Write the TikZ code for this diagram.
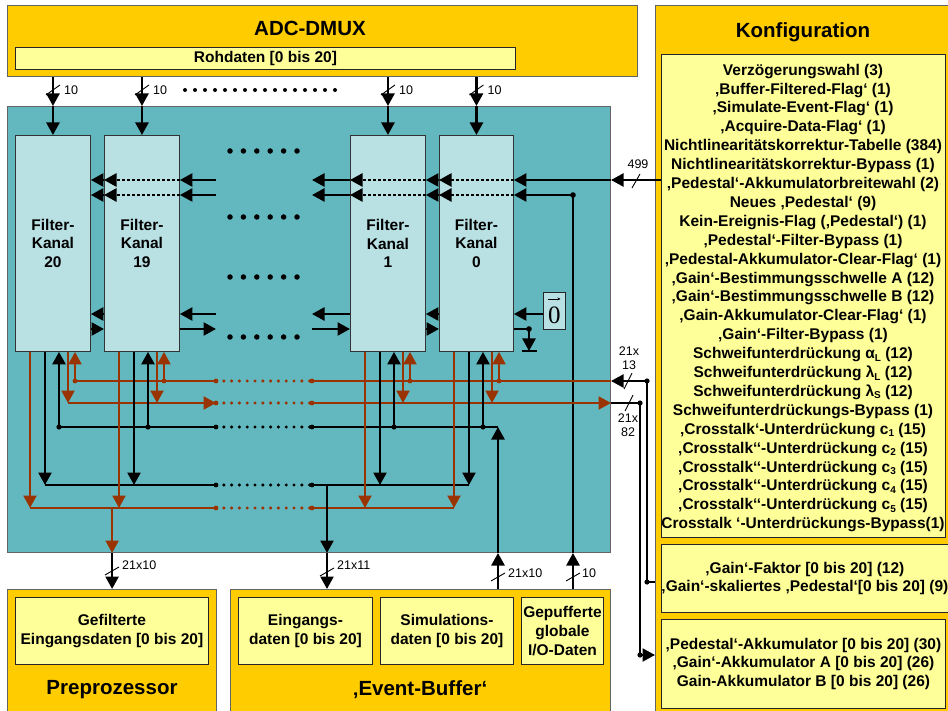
\documentclass[tikz,border=0pt]{standalone}
\usepackage{fontspec}
\setmainfont{Liberation Sans}
\newfontfamily\zserif{Liberation Serif}
\usetikzlibrary{arrows.meta,calc}
\definecolor{orng}{RGB}{255,204,0}
\definecolor{pyel}{RGB}{255,255,153}
\definecolor{tealc}{RGB}{99,184,191}
\definecolor{chanc}{RGB}{185,224,227}
\definecolor{brnc}{RGB}{153,51,0}
\definecolor{bordc}{RGB}{100,100,100}
\newcommand{\mysub}[1]{\raisebox{-0.3ex}{\fontsize{10}{10}\selectfont #1}}
\tikzset{
  bigbox/.style={draw=bordc, line width=1.2pt, fill=orng, inner sep=0pt},
  inbox/.style={draw=black!85, line width=0.9pt, fill=pyel, inner sep=0pt, align=center, font=\fontsize{15.5}{18.6}\selectfont\bfseries},
  chanbox/.style={draw=black!80, line width=0.9pt, fill=chanc, inner sep=0pt, align=center, minimum width=75pt, minimum height=216pt, font=\fontsize{15.5}{18.5}\selectfont\bfseries},
  ttl/.style={font=\fontsize{20.5}{24}\selectfont\bfseries, inner sep=0pt},
  lbl/.style={font=\fontsize{12.5}{14.5}\selectfont, align=center, inner sep=0pt},
  blk/.style={draw=black, line width=2.5pt},
  brn/.style={draw=brnc, line width=2.2pt},
  olin/.style={draw=black, line width=2.2pt},
  tip/.style={-{Triangle[length=12.5pt,width=13pt]}},
  fdot/.style={dash pattern=on 2.6pt off 2.4pt},
  busdot/.style={line width=3.4pt, dash pattern=on 0pt off 7.8pt, line cap=round},
  sl/.style={draw=black, line width=0.9pt},
}
\begin{document}
\begin{tikzpicture}[x=1pt,y=-1pt]
\useasboundingbox (0,0) rectangle (948,711);
\clip (0,0) rectangle (948,711);
\fill[white] (0,0) rectangle (948,711);

% ---------- ADC-DMUX ----------
\node[bigbox, anchor=north west, minimum width=630pt, minimum height=71pt] (adc) at (7,5) {};
\node[ttl] (adct) at (310,28) {ADC-DMUX};
\node[inbox, anchor=north west, minimum width=500pt, minimum height=22pt] (roh) at (15,47) {Rohdaten [0 bis 20]};

% ---------- Konfiguration ----------
\node[bigbox, anchor=north west, minimum width=300pt, minimum height=720pt] (kon) at (655,5) {};
\node[ttl] (kont) at (803,32) {Konfiguration};
\node[inbox, anchor=north west, minimum width=284pt, minimum height=483pt] (cfg1) at (661,54) {};
\node[align=center, inner sep=0pt, font=\fontsize{15.5}{18.9}\selectfont\bfseries] (cfg1t) at (803,298) {Verzögerungswahl (3)\\
‚Buffer-Filtered-Flag‘ (1)\\
‚Simulate-Event-Flag‘ (1)\\
‚Acquire-Data-Flag‘ (1)\\
Nichtlinearitätskorrektur-Tabelle (384)\\
Nichtlinearitätskorrektur-Bypass (1)\\
‚Pedestal‘-Akkumulatorbreitewahl (2)\\
Neues ‚Pedestal‘ (9)\\
Kein-Ereignis-Flag (‚Pedestal‘) (1)\\
‚Pedestal‘-Filter-Bypass (1)\\
‚Pedestal-Akkumulator-Clear-Flag‘ (1)\\
‚Gain‘-Bestimmungsschwelle A (12)\\
‚Gain‘-Bestimmungsschwelle B (12)\\
‚Gain-Akkumulator-Clear-Flag‘ (1)\\
‚Gain‘-Filter-Bypass (1)\\
Schweifunterdrückung α\mysub{L} (12)\\
Schweifunterdrückung λ\mysub{L} (12)\\
Schweifunterdrückung λ\mysub{S} (12)\\
Schweifunterdrückungs-Bypass (1)\\
‚Crosstalk‘-Unterdrückung c\mysub{1} (15)\\
‚Crosstalk‘‘-Unterdrückung c\mysub{2} (15)\\
‚Crosstalk‘‘-Unterdrückung c\mysub{3} (15)\\
‚Crosstalk‘‘-Unterdrückung c\mysub{4} (15)\\
‚Crosstalk‘‘-Unterdrückung c\mysub{5} (15)\\
Crosstalk ‘-Unterdrückungs-Bypass(1)};
\node[inbox, anchor=north west, minimum width=284pt, minimum height=68pt] (cfg2) at (661,544) {‚Gain‘-Faktor [0 bis 20] (12)\\‚Gain‘-skaliertes ‚Pedestal‘[0 bis 20] (9)};
\node[inbox, anchor=north west, minimum width=284pt, minimum height=89pt] (cfg3) at (661,619) {‚Pedestal‘-Akkumulator [0 bis 20] (30)\\‚Gain‘-Akkumulator A [0 bis 20] (26)\\Gain-Akkumulator B [0 bis 20] (26)};

% ---------- Filter block ----------
\node[draw=bordc, line width=1pt, fill=tealc, anchor=north west, minimum width=603pt, minimum height=446pt, inner sep=0pt] (teal) at (7,106) {};
\node[chanbox, anchor=north west] (k20) at (15,135) {Filter-\\Kanal\\20};
\node[chanbox, anchor=north west] (k19) at (104,135) {Filter-\\Kanal\\19};
\node[chanbox, anchor=north west] (k1) at (350,135) {Filter-\\Kanal\\1};
\node[chanbox, anchor=north west, minimum width=74pt] (k0) at (439,135) {Filter-\\Kanal\\0};
\node[draw=black!85, line width=0.9pt, fill=chanc, minimum width=22pt, minimum height=37pt, anchor=north west, inner sep=0pt] (zero) at (543,292) {};
\node[inner sep=0pt, font=\fontsize{25}{25}\selectfont\zserif] (zerot) at ($(zero.center)+(0,4)$) {0};
\draw[line width=0.7pt, -{Stealth[length=3pt,width=3pt]}] ($(zero.center)+(-6,-12)$) -- ($(zero.center)+(6,-12)$);

% ---------- bottom blocks ----------
\node[bigbox, anchor=north west, minimum width=209pt, minimum height=140pt] (pre) at (7,589) {};
\node[inbox, anchor=north west, minimum width=193pt, minimum height=67pt] (gef) at (15,597) {Gefilterte\\Eingangsdaten [0 bis 20]};
\node[ttl] (pret) at (112,690) {Preprozessor};
\node[bigbox, anchor=north west, minimum width=380pt, minimum height=140pt] (evb) at (230,589) {};
\node[inbox, anchor=north west, minimum width=134pt, minimum height=67pt] (ein) at (238,597) {Eingangs-\\daten [0 bis 20]};
\node[inbox, anchor=north west, minimum width=133pt, minimum height=67pt] (sim) at (380,597) {Simulations-\\daten [0 bis 20]};
\node[inbox, anchor=north west, minimum width=82pt, minimum height=67pt] (gep) at (521,597) {Gepufferte\\globale\\I/O-Daten};
\node[ttl] (evbt) at (420,690) {‚Event-Buffer‘};

% ---------- helper coordinates ----------
\coordinate (r1) at (0,180); \coordinate (r2) at (0,195);
\coordinate (r3) at (0,314); \coordinate (r4) at (0,329);
\coordinate (gapL) at (216,0); \coordinate (gapR) at (312,0);
\coordinate (busA) at (0,381); \coordinate (busB) at (0,403);
\coordinate (busC) at (0,427); \coordinate (busD) at (0,485);
\coordinate (busE) at (0,508);
\coordinate (vEin) at (327,0); \coordinate (vSim) at (498,0); \coordinate (vIO) at (573,0);
\coordinate (gnd) at (529,351);
\coordinate (jA) at (647,381); \coordinate (jB) at (640,403);
\coordinate (yA) at (0,582); \coordinate (yB) at (0,655);
\coordinate (slT) at (0,90);

% ---------- top inputs ----------
\foreach \c in {k20,k19,k1,k0}{
  \draw[blk,tip] (\c.north |- adc.south) -- (\c.north |- teal.north);
  \draw[blk,tip] (\c.north |- teal.north) -- (\c.north);
  \draw[sl] ($(\c.north |- slT)+(-7,5)$) -- ($(\c.north |- slT)+(7,-5)$);
  \node[lbl, anchor=west] at ($(\c.north |- slT)+(11,0)$) {10};
}
\draw[line width=4pt, dash pattern=on 0pt off 10pt, line cap=round] (185,90) -- (345,90);
\foreach \y in {151,217,277,337}
  \draw[line width=5.5pt, dash pattern=on 0pt off 13.4pt, line cap=round] (230,\y) -- (297,\y);

% ---------- rows 1 and 2 (leftward, through boxes) ----------
\draw[olin,tip] (cfg1.west |- r1) -- (teal.east |- r1);
\draw[sl] (632,188) -- (640,174);
\node[lbl] at (638,164) {499};
\draw[blk,tip] (teal.east |- r1) -- (k0.east |- r1);
\draw[blk,tip] (vIO |- teal.south) -- (vIO |- r2) -- (k0.east |- r2);
\fill (vIO |- r2) circle (2.8pt);
\foreach \r in {r1,r2}{
  \draw[blk,fdot,tip] (k0.east |- \r) -- (k0.west |- \r);
  \draw[blk,tip] (k0.west |- \r) -- (k1.east |- \r);
  \draw[blk,fdot,tip] (k1.east |- \r) -- (k1.west |- \r);
  \draw[blk,tip] (k1.west |- \r) -- (gapR |- \r);
  \draw[blk,tip] (gapL |- \r) -- (k19.east |- \r);
  \draw[blk,fdot,tip] (k19.east |- \r) -- (k19.west |- \r);
  \draw[blk,tip] (k19.west |- \r) -- (k20.east |- \r);
}

% ---------- row 3 (leftward) ----------
\draw[blk,tip] (zero.west |- r3) -- (k0.east |- r3);
\draw[blk,tip] (k0.west |- r3) -- (k1.east |- r3);
\draw[blk,tip] (k1.west |- r3) -- (gapR |- r3);
\draw[blk,tip] (gapL |- r3) -- (k19.east |- r3);
\draw[blk,tip] (k19.west |- r3) -- (k20.east |- r3);

% ---------- row 4 (rightward) ----------
\draw[blk,tip] (k20.east |- r4) -- (k19.west |- r4);
\draw[blk,tip] (k19.east |- r4) -- (gapL |- r4);
\draw[blk,tip] (gapR |- r4) -- (k1.west |- r4);
\draw[blk,tip] (k1.east |- r4) -- (k0.west |- r4);
\draw[blk] (k0.east |- r4) -- (gnd |- r4);
\draw[blk,tip] (gnd |- r4) -- (gnd);
\fill (gnd |- r4) circle (2.8pt);
\draw[line width=2.8pt] ($(gnd)+(-7.5,0)$) -- ($(gnd)+(7.5,0)$);

% ---------- channel bottom connections ----------
\foreach \c in {k20,k19,k1,k0}{
  \coordinate (\c-a) at ($(\c.south west)+(15,0)$);
  \coordinate (\c-b) at ($(\c.south west)+(30,0)$);
  \coordinate (\c-c) at ($(\c.south west)+(44,0)$);
  \coordinate (\c-d) at ($(\c.south west)+(53,0)$);
  \coordinate (\c-e) at ($(\c.south west)+(60,0)$);
}
% buses
\draw[brn] (k20-a |- busE) -- (gapL |- busE);
\draw[brn] (gapR |- busE) -- (k0-a |- busE);
\draw[brnc,busdot] (gapL |- busE) -- (gapR |- busE);
\draw[blk] (k20-b |- busD) -- (gapL |- busD);
\draw[blk] (gapR |- busD) -- (k0-b |- busD);
\draw[black,busdot] (gapL |- busD) -- (gapR |- busD);
\draw[blk] (k20-c |- busC) -- (gapL |- busC);
\draw[blk] (gapR |- busC) -- (vSim |- busC);
\draw[black,busdot] (gapL |- busC) -- (gapR |- busC);
\draw[brn,tip] (k20-d |- busB) -- (gapL |- busB);
\draw[brn,tip] (gapR |- busB) -- (teal.east |- busB);
\draw[brnc,busdot] (gapL |- busB) -- (gapR |- busB);
\draw[brn] (k20-e |- busA) -- (gapL |- busA);
\draw[brn] (gapR |- busA) -- (teal.east |- busA);
\draw[brnc,busdot] (gapL |- busA) -- (gapR |- busA);
\foreach \b/\col in {busA/brnc,busB/brnc,busC/black,busD/black,busE/brnc}{
  \fill[\col] (gapL |- \b) circle (2.4pt);
  \fill[\col] (gapR |- \b) circle (2.4pt);
}
% verticals
\foreach \c in {k20,k19,k1,k0}{
  \draw[brn,tip] (\c-a) -- (\c-a |- busE);
  \draw[blk,tip] (\c-b) -- (\c-b |- busD);
  \draw[blk,tip] (\c-c |- busC) -- (\c-c);
  \fill (\c-c |- busC) circle (2.6pt);
  \draw[brn,tip] (\c-d) -- (\c-d |- busB);
  \draw[brn,tip] (\c-e |- busA) -- (\c-e);
  \fill[brnc] (\c-e |- busA) circle (2.4pt);
}

% ---------- block outputs / inputs at bottom ----------
\draw[brn,tip] (pre.north |- busE) -- (pre.north |- teal.south);
\draw[blk,tip] (pre.north |- teal.south) -- (pre.north);
\draw[sl] (105,575) -- (119,567);
\node[lbl, anchor=west] at (122,565) {21x10};
\draw[blk,tip] (vEin |- busD) -- (vEin |- teal.south);
\draw[blk,tip] (vEin |- teal.south) -- (vEin |- evb.north);
\draw[sl] (320,576) -- (334,568);
\node[lbl, anchor=west] at (337,565) {21x11};
\draw[blk,tip] (vSim |- evb.north) -- (vSim |- teal.south);
\draw[blk,tip] (vSim |- teal.south) -- (vSim |- busC);
\draw[sl] (491,581) -- (505,573);
\node[lbl, anchor=west] at (508,573) {21x10};
\draw[blk,tip] (vIO |- evb.north) -- (vIO |- teal.south);
\draw[sl] (566,581) -- (580,573);
\node[lbl, anchor=west] at (582,573) {10};

% ---------- configuration links ----------
\draw[olin,tip] (jA) -- (teal.east |- busA);
\draw[olin] (jA) -- (jA |- yA) -- (kon.west |- yA);
\fill (jA) circle (2.6pt);
\fill (jA |- yA) circle (2.6pt);
\draw[olin] (teal.east |- busB) -- (jB);
\draw[olin,tip] (jB) -- (jB |- yB) -- (kon.west |- yB);
\fill (jB) circle (2.6pt);
\fill (jB |- yB) circle (2.6pt);
\draw[sl] (624,389) -- (632,373);
\node[lbl] at (629,358) {21x\\13};
\draw[sl] (625,411) -- (633,395);
\node[lbl] at (628,425) {21x\\82};
\end{tikzpicture}
\end{document}
